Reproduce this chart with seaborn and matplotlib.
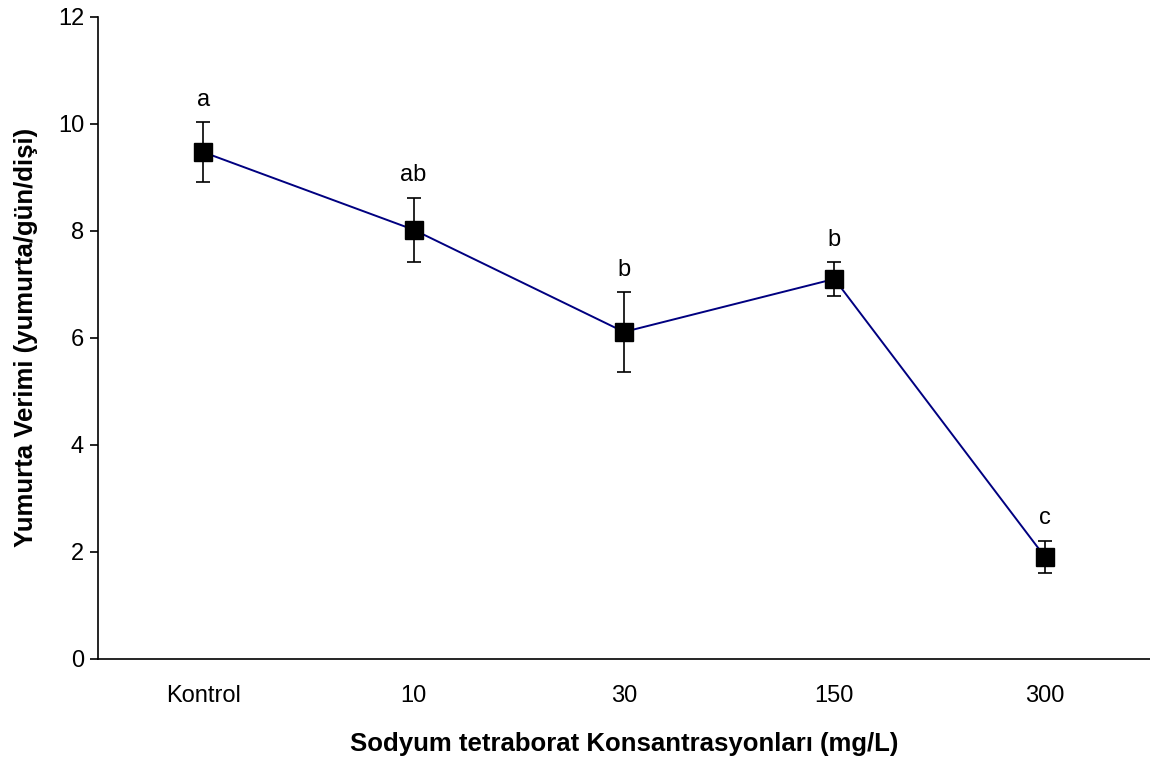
import numpy as np
import pandas as pd
import matplotlib
matplotlib.use("Agg")
import matplotlib.pyplot as plt
import seaborn as sns

# Egg yield per concentration
concentrations = ["Kontrol", "10", "30", "150", "300"]
egg_yield = [9.47, 8.02, 6.11, 7.10, 1.91]
yield_err = [0.56, 0.60, 0.75, 0.32, 0.30]
group_letters = ["a", "ab", "b", "b", "c"]

df = pd.DataFrame({"conc": concentrations, "yield": egg_yield})

sns.set_style("white")
plt.rcParams["font.family"] = ["Liberation Sans", "DejaVu Sans"]
for key in ["text.color", "axes.labelcolor", "xtick.color", "ytick.color"]:
    plt.rcParams[key] = "black"

fig = plt.figure(figsize=(11.5, 7.6), dpi=100)
ax = fig.add_axes([0.0852, 0.133, 0.9148, 0.845])

sns.lineplot(data=df, x="conc", y="yield", sort=False, color="#000080",
             linewidth=1.4, ax=ax, zorder=2)
xpos = np.arange(len(concentrations))
ax.errorbar(xpos, egg_yield, yerr=yield_err, fmt="none", ecolor="black",
            elinewidth=1.2, capsize=5, capthick=1.2, zorder=3)
ax.plot(xpos, egg_yield, "s", color="black", markersize=13, zorder=4)

# significance letters above the error bars
for x, y, e, lab in zip(xpos, egg_yield, yield_err, group_letters):
    ax.annotate(lab, (x, y + e), xytext=(0, 16), textcoords="offset points",
                ha="center", va="center", fontsize=17)

ax.set_xlim(-0.5, 4.5)
ax.set_ylim(0, 12)
ax.set_yticks(np.arange(0, 13, 2))
ax.set_xticks(xpos)
ax.set_xticklabels(concentrations)
ax.set_xticks(np.arange(-0.5, 4, 1), minor=True)
ax.tick_params(axis="x", which="major", length=0, pad=19, labelsize=17)
ax.tick_params(axis="x", which="minor", length=6, width=1.2, direction="out")
ax.tick_params(axis="y", length=6, width=1.2, direction="out", labelsize=17,
               left=True, pad=4)

for side in ["top", "right"]:
    ax.spines[side].set_visible(False)
for side in ["left", "bottom"]:
    ax.spines[side].set_color("black")
    ax.spines[side].set_linewidth(1.2)

ax.set_xlabel("Sodyum tetraborat Konsantrasyonları (mg/L)", fontsize=18.5,
              fontweight="bold", labelpad=18)
ax.set_ylabel("Yumurta Verimi (yumurta/gün/dişi)", fontsize=18.5,
              fontweight="bold", labelpad=14)

fig.savefig("out.png", dpi=100)
